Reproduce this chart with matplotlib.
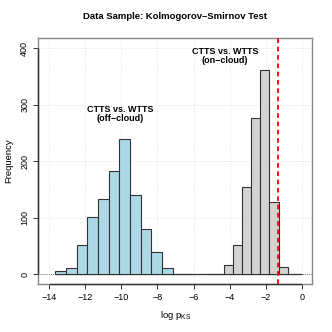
import numpy as np
import matplotlib
matplotlib.use("Agg")
import matplotlib.pyplot as plt

plt.rcParams['font.family'] = ['Liberation Sans', 'DejaVu Sans']

# off-cloud histogram (light blue)
off_edges = [-13.65, -13.06, -12.47, -11.88, -11.29, -10.70, -10.11, -9.52,
             -8.93, -8.34, -7.75, -7.16, -6.57, -5.98]
off_counts = [6, 11, 53, 101, 133, 183, 239, 141, 80, 40, 12, 1, 1]

# on-cloud histogram (light gray)
on_edges = [-5.3, -4.8, -4.3, -3.8, -3.3, -2.8, -2.3, -1.8, -1.3, -0.8]
on_counts = [1, 1, 16, 52, 154, 276, 362, 129, 13]

p_crit = 0.05
xticks = [-14, -12, -10, -8, -6, -4, -2, 0]
yticks = [0, 100, 200, 300, 400]

fig = plt.figure(figsize=(3.32, 3.32), dpi=100)
ax = fig.add_axes([0.1154, 0.1446, 0.8253, 0.74])

# dotted grid
for xv in xticks:
    ax.axvline(xv, color='#d9d9d9', lw=0.6, ls=(0, (1, 2)), zorder=0)
for yv in yticks:
    ax.axhline(yv, color='#d9d9d9', lw=0.6, ls=(0, (1, 2)), zorder=0)
ax.axhline(0, color='#555555', lw=0.6, ls=(0, (1, 1.5)), zorder=1)
ax.hlines(0, off_edges[0], 0, color='#333333', lw=0.9, zorder=1)

ax.hist(off_edges[:-1], bins=off_edges, weights=off_counts,
        color='lightblue', edgecolor='#333333', lw=0.8, zorder=2)
ax.hist(on_edges[:-1], bins=on_edges, weights=on_counts,
        color='lightgray', edgecolor='#333333', lw=0.8, zorder=2)

ax.axvline(np.log10(p_crit), color='red', lw=1.3, ls=(0, (2.6, 2)), zorder=3)

ax.text(-10.05, 284, 'CTTS vs. WTTS\n(off\u2212cloud)', ha='center', va='center',
        fontsize=6.5, fontweight='bold', linespacing=1.05)
ax.text(-4.26, 386, 'CTTS vs. WTTS\n(on\u2212cloud)', ha='center', va='center',
        fontsize=6.5, fontweight='bold', linespacing=1.05)

ax.set_xlim(-14.59, 0.57)
ax.set_ylim(-16.8, 417.7)
ax.set_xticks(xticks)
ax.set_yticks(yticks)
ax.set_yticklabels([str(v) for v in yticks], rotation=90, va='center')
ax.tick_params(labelsize=6.5, length=3.5, width=0.7, color='#333333', pad=3)
for s in ax.spines.values():
    s.set_color('#888888')
    s.set_linewidth(1.0)
ax.hlines(-16.8, -14, 0, color='#333333', lw=1.0, clip_on=False, zorder=5)
ax.vlines(-14.59, 0, 400, color='#333333', lw=1.0, clip_on=False, zorder=5)

ax.set_xlabel('log p$_\\mathregular{KS}$', fontsize=6.8, labelpad=5)
ax.set_ylabel('Frequency', fontsize=6.8, labelpad=5)
fig.text(0.527, 0.951, 'Data Sample: Kolmogorov\u2013Smirnov Test', ha='center',
         va='center', fontsize=6.8, fontweight='bold')

fig.savefig('out.png', dpi=100)
